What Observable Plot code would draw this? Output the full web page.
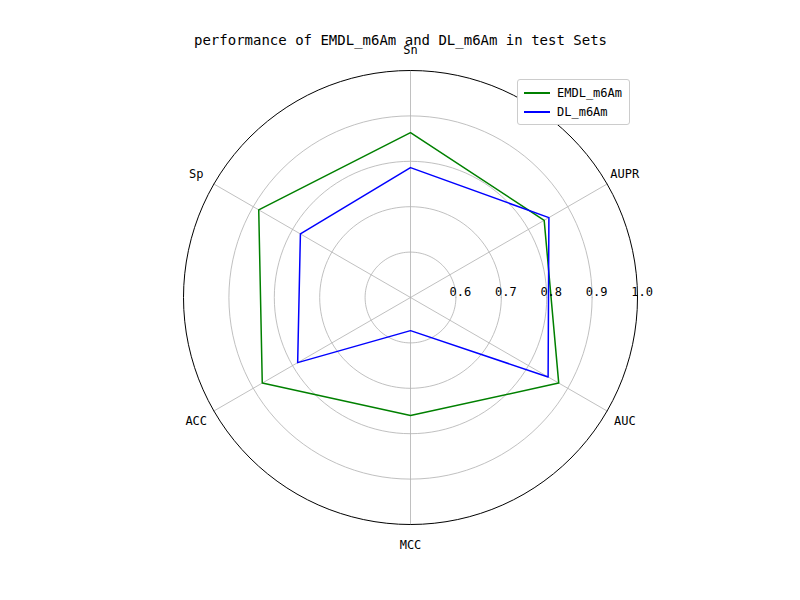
<!DOCTYPE html>
<html><head><meta charset="utf-8">
<script src="https://cdn.jsdelivr.net/npm/d3@7"></script>
<script src="https://cdn.jsdelivr.net/npm/@observablehq/plot@0.6"></script>
<style>
body{margin:0;background:#fff;font-family:"DejaVu Sans Mono",monospace;}
#wrap{position:relative;width:800px;height:600px;}
#legend{position:absolute;left:517px;top:79px;width:111px;padding:3px 0;border:1px solid #ccc;border-radius:3px;background:#fff;font-size:12px;}
#legend div{display:flex;align-items:center;height:19px;}
#legend span.l{display:inline-block;width:26px;height:2px;margin:0 7px 0 6px;}
</style></head><body>
<div id="wrap"><div id="chart"></div>
<div id="legend">
<div><span class="l" style="background:green"></span>EMDL_m6Am</div>
<div><span class="l" style="background:blue"></span>DL_m6Am</div>
</div></div>
<script>
const metrics = ["Sn", "Sp", "ACC", "MCC", "AUC", "AUPR"];
const emdl = [0.863, 0.886, 0.877, 0.76, 0.877, 0.84];
const dl = [0.786, 0.78, 0.787, 0.573, 0.85, 0.852];
const ticks = [0.6, 0.7, 0.8, 0.9, 1.0];
const rMin = 0.5;

// Sn on top, going counterclockwise
const ang = i => Math.PI / 2 + i * 2 * Math.PI / metrics.length;
const pt = (v, i) => ({x: (v - rMin) * Math.cos(ang(i)), y: (v - rMin) * Math.sin(ang(i))});

const series = (vals, name) => {
  const p = vals.map((v, i) => ({...pt(v, i), name}));
  return [...p, p[0]];
};

const circle = v => d3.range(0, 361, 3).map(a => ({x: (v - rMin) * Math.cos(a * Math.PI / 180), y: (v - rMin) * Math.sin(a * Math.PI / 180), v}));
const grid = ticks.slice(0, -1).flatMap(circle);
const outer = circle(1.0);
const spokes = metrics.flatMap((m, i) => [{...pt(rMin, i), m}, {...pt(1.0, i), m}]);
const labels = metrics.map((m, i) => ({...pt(1.045, i), m}));
const tickLbl = ticks.map(t => ({x: t - rMin + 0.01, y: 0, t}));

const chart = Plot.plot({
  width: 800, height: 600,
  margin: 0,
  x: {domain: [-410 / 454, 390 / 454], axis: null},
  y: {domain: [-303 / 454, 297 / 454], axis: null},
  style: {fontFamily: "'DejaVu Sans Mono', monospace", fontSize: "12px"},
  marks: [
    Plot.line(grid, {x: "x", y: "y", z: "v", stroke: "#b0b0b0", strokeWidth: 0.8}),
    Plot.line(spokes, {x: "x", y: "y", z: "m", stroke: "#b0b0b0", strokeWidth: 0.8}),
    Plot.line(outer, {x: "x", y: "y", stroke: "black", strokeWidth: 1}),
    Plot.line(series(emdl, "EMDL_m6Am"), {x: "x", y: "y", stroke: "green", strokeWidth: 1.5}),
    Plot.line(series(dl, "DL_m6Am"), {x: "x", y: "y", stroke: "blue", strokeWidth: 1.5}),
    Plot.text(labels, {x: "x", y: "y", text: "m", fill: "black", fontSize: 12}),
    Plot.text(tickLbl, {x: "x", y: "y", dy: -5, text: d => d.t.toFixed(1), textAnchor: "middle", fill: "black", fontSize: 12}),
    Plot.text(["performance of EMDL_m6Am and DL_m6Am in test Sets"], {frameAnchor: "top", dy: 35, fontSize: 14, fill: "black"})
  ]
});
document.getElementById("chart").append(chart);
</script></body></html>
